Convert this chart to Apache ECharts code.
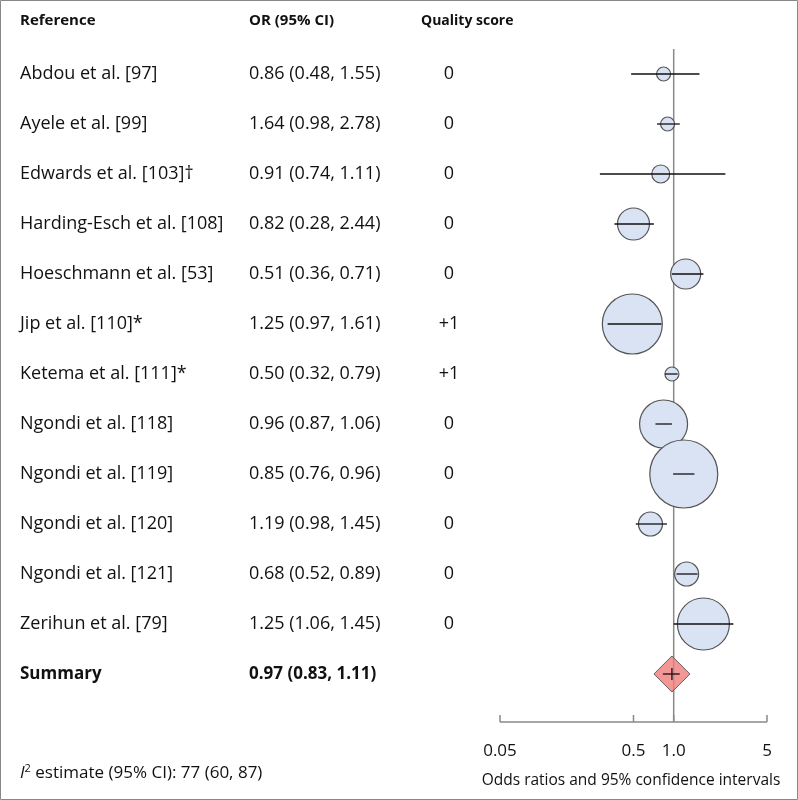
<!DOCTYPE html>
<html><head><meta charset="utf-8">
<script src="https://cdn.jsdelivr.net/npm/echarts@6/dist/echarts.min.js"></script>
<style>html,body{margin:0;padding:0;background:#fff}#c{width:798px;height:800px}</style>
</head><body><div id="c"></div>
<script>
const references = ["Abdou et al. [97]","Ayele et al. [99]","Edwards et al. [103]†","Harding-Esch et al. [108]","Hoeschmann et al. [53]","Jip et al. [110]*","Ketema et al. [111]*","Ngondi et al. [118]","Ngondi et al. [119]","Ngondi et al. [120]","Ngondi et al. [121]","Zerihun et al. [79]"];
const orText = ["0.86 (0.48, 1.55)","1.64 (0.98, 2.78)","0.91 (0.74, 1.11)","0.82 (0.28, 2.44)","0.51 (0.36, 0.71)","1.25 (0.97, 1.61)","0.50 (0.32, 0.79)","0.96 (0.87, 1.06)","0.85 (0.76, 0.96)","1.19 (0.98, 1.45)","0.68 (0.52, 0.89)","1.25 (1.06, 1.45)"];
const quality = ["0","0","0","0","0","+1","+1","0","0","0","0","0"];
// plotted positions as drawn in the picture
const est  = [0.84,0.90,0.80,0.50,1.23,0.49,0.97,0.84,1.19,0.67,1.25,1.67];
const low  = [0.48,0.75,0.28,0.36,0.97,0.32,0.86,0.73,0.99,0.52,1.05,1.00];
const high = [1.56,1.11,2.44,0.71,1.67,0.81,1.07,0.97,1.43,0.89,1.51,2.80];
const radius = [7,7,9,16,15,30,7,24,34,12,12,26];
const summary = {label:"Summary", text:"0.97 (0.83, 1.11)", est:0.97, low:0.83, high:1.11};
const ticks = [0.05,0.5,1.0,5];
const tickLabels = ["0.05","0.5","1.0","5"];

const chart = echarts.init(document.getElementById('c'));
const F = "'Open Sans', 'Liberation Sans', sans-serif";
const rows = references.map((r,i)=>[i]);
rows.push([12]);
function txt(x, y, s, bold, align, size){
  return {type:'text', x:x, y:y, style:{text:s, font:(bold?'bold ':'')+(size||18)+'px '+F, fill:'#111', textAlign:align||'left', textVerticalAlign:'middle'}};
}
chart.setOption({
  animation:false,
  grid:{left:500, width:267, top:24, bottom:78},
  xAxis:{type:'log', logBase:10, min:0.05, max:5, axisLine:{show:false}, axisTick:{show:false}, axisLabel:{show:false}, splitLine:{show:false}},
  yAxis:{type:'value', inverse:true, min:-1, max:12.96, show:false},
  graphic:[
    {type:'rect', shape:{x:0.5,y:0.5,width:797,height:799}, style:{fill:'none', stroke:'#888', lineWidth:1}},
    txt(20,21,'Reference',true,'left',15), txt(249,21,'OR (95% CI)',true,'left',15), txt(421,21,'Quality score',true,'left',14),
    {type:'text', x:20, y:773, style:{text:'{i|I}{s|2} estimate (95% CI): 77 (60, 87)', font:'17px '+F, fill:'#111', textVerticalAlign:'middle',
      rich:{i:{font:'italic 17px '+F}, s:{font:'11px '+F, verticalAlign:'top', padding:[0,0,8,0]}}}},
    {type:'text', x:631, y:781, style:{text:'Odds ratios and 95% confidence intervals', font:'15.5px '+F, fill:'#111', textAlign:'center', textVerticalAlign:'middle'}}
  ],
  series:[
    {type:'custom', data:rows, renderItem:(p,api)=>{
      const i=api.value(0); const y=api.coord([1,i])[1];
      const isS = i===12;
      return {type:'group', children:[
        txt(20,y,isS?summary.label:references[i],isS,'left',isS?17:18),
        txt(249,y,isS?summary.text:orText[i],isS,'left',isS?17:18),
        txt(449,y,isS?'':quality[i],false,'center')
      ]};
    }, z:1},
    {type:'custom', data:[[0]], renderItem:(p,api)=>{
      const top=api.coord([1,-0.5])[1], bot=api.coord([1,12.96])[1];
      const x0=api.coord([0.05,0])[0], x1=api.coord([5,0])[0];
      const ch=[{type:'line', shape:{x1:api.coord([1,0])[0],y1:top,x2:api.coord([1,0])[0],y2:bot}, style:{stroke:'#888',lineWidth:1.5}},
        {type:'line', shape:{x1:x0,y1:bot,x2:x1,y2:bot}, style:{stroke:'#888',lineWidth:1.5}}];
      ticks.forEach((t,k)=>{const x=api.coord([t,0])[0];
        ch.push({type:'line', shape:{x1:x,y1:bot,x2:x,y2:bot-7}, style:{stroke:'#888',lineWidth:1.5}});
        ch.push({type:'text', x:x, y:bot+29, style:{text:tickLabels[k], font:'17px '+F, fill:'#111', textAlign:'center', textVerticalAlign:'middle'}});
      });
      return {type:'group', children:ch};
    }, z:2},
    {type:'scatter', data:est.map((e,i)=>[e,i,radius[i]]), symbolSize:v=>v[2]*2,
      itemStyle:{color:'#d9e3f4', borderColor:'#555', borderWidth:1.2, opacity:1}, z:3},
    {type:'custom', data:est.map((e,i)=>[i]), renderItem:(p,api)=>{
      const i=api.value(0); const a=api.coord([low[i],i]), b=api.coord([high[i],i]);
      return {type:'line', shape:{x1:a[0],y1:a[1],x2:b[0],y2:b[1]}, style:{stroke:'#111',lineWidth:1.3}};
    }, z:4},
    {type:'scatter', data:[[summary.est,12]], symbol:'diamond', symbolSize:[36,36],
      itemStyle:{color:'#f07c7c', borderColor:'#444', borderWidth:1}, z:3},
    {type:'custom', data:[[12]], renderItem:(p,api)=>{
      const a=api.coord([summary.low,12]), b=api.coord([summary.high,12]), c=api.coord([summary.est,12]);
      return {type:'group', children:[
        {type:'line', shape:{x1:a[0],y1:a[1],x2:b[0],y2:b[1]}, style:{stroke:'#111',lineWidth:1.3}},
        {type:'line', shape:{x1:c[0],y1:c[1]-6,x2:c[0],y2:c[1]+6}, style:{stroke:'#111',lineWidth:1.3}}]};
    }, z:4}
  ]
});
</script></body></html>
